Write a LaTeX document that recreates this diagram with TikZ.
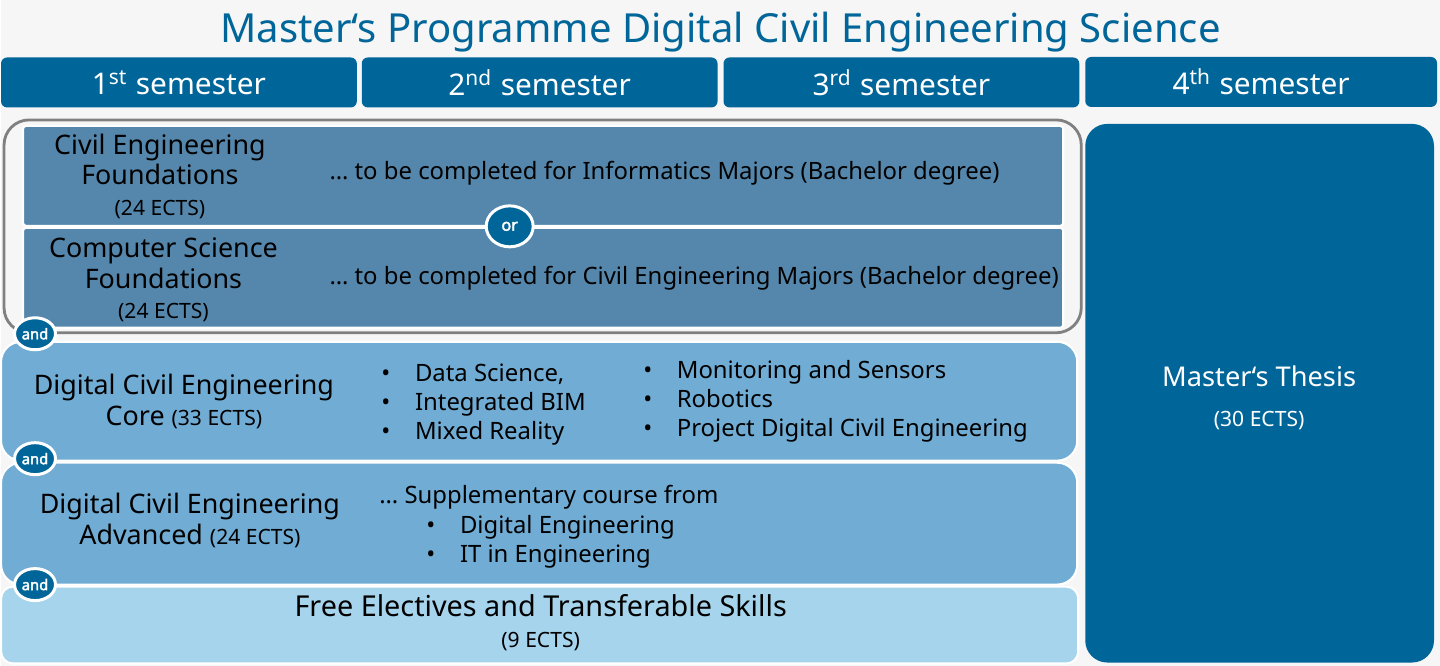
\documentclass[tikz,border=0pt]{standalone}
\usepackage{fontspec}
\setmainfont{Noto Sans}
\newfontfamily\jointfont{Noto Sans}[FakeBold=2.5]
\usepackage{tikz}
\tikzset{
    block/.style={ % coloured box, #1 = fill
        rectangle,
        fill=#1,
        draw=white,
        line width=0.6pt,
        inner sep=0pt,
        outer sep=0pt
    },
}
\usetikzlibrary{positioning,shapes.geometric}
\definecolor{hdrblue}{RGB}{0,101,153}
\definecolor{fndblue}{RGB}{85,135,172}
\definecolor{coreblue}{RGB}{112,172,212}
\definecolor{freeblue}{RGB}{166,212,236}
\definecolor{bggray}{RGB}{246,246,246}
\definecolor{rimgray}{RGB}{128,128,128}
\newcommand{\ects}[1]{{\fontsize{6}{7}\selectfont(#1 ECTS)}}

\begin{document}
\begin{tikzpicture}[x=1cm,y=-1cm]
%% box and label styles
\tikzstyle{semester}=[rectangle,rounded corners=0.06cm,fill=hdrblue,text=white,minimum width=3.56cm,minimum height=0.50cm,inner sep=0pt,font=\fontsize{8.5}{10}\selectfont]
\tikzstyle{txt}=[inner sep=0pt,align=center,font=\fontsize{7.65}{8.8}\selectfont]
\tikzstyle{note}=[inner sep=0pt,anchor=west,align=left,font=\fontsize{6.8}{8.2}\selectfont]
\tikzstyle{joint}=[ellipse,fill=hdrblue,draw=white,line width=0.85pt,text=white,inner sep=0pt,font=\jointfont\fontsize{4.2}{5}\selectfont]
%BACKGROUND
\node[rectangle,fill=bggray,minimum width=14.4cm,minimum height=6.66cm,inner sep=0pt,outer sep=0pt] (canvas) at (7.2,3.33) {};
%TITLE
\node[inner sep=0pt,text=hdrblue,font=\fontsize{11.4}{13}\selectfont] (title) at (7.2,0.32) {Master‘s Programme Digital Civil Engineering Science};
%%%%%%%%%%%%%%%%%%%%%%%%%%%%%%%%%%%%%%%%%%%%%%%%%%%%%%%%%%%%%%%%%%%%%%%%
%SEMESTERS
\node[semester] (sem1) at (1.78,0.825) {1\textsuperscript{st} semester};
\node[semester] (sem2) at (5.39,0.825) {2\textsuperscript{nd} semester};
\node[semester] (sem3) at (9.01,0.825) {3\textsuperscript{rd} semester};
\node[semester,minimum width=3.52cm] (sem4) at (12.61,0.82) {4\textsuperscript{th} semester};

%%%%%%%%%%%%%%%%%%%%%%%%%%%%%%%%%%%%%%%%%%%%%%%%%%%%%%%%%%%%%%%%%%%%%%%%
%FOUNDATIONS
\node[rectangle,draw=rimgray,line width=0.8pt,rounded corners=0.25cm,minimum width=10.78cm,minimum height=2.13cm,inner sep=0pt] (choice) at (5.42,2.265) {};
\node[block=fndblue,rounded corners=0.03cm,minimum width=10.41cm,minimum height=1.00cm] (cef) at (5.425,1.76) {};
\node[block=fndblue,rounded corners=0.03cm,minimum width=10.41cm,minimum height=1.00cm] (csf) at (5.425,2.78) {};
\node[txt] (ceflabel) at (1.59,1.765) {Civil Engineering\\Foundations\\\ects{24}};
\node[txt] (csflabel) at (1.625,2.80) {Computer Science\\Foundations\\\ects{24}};
\node[note] (cefnote) at (3.28,1.735) {… to be completed for Informatics Majors (Bachelor degree)};
\node[note] (csfnote) at (3.28,2.785) {… to be completed for Civil Engineering Majors (Bachelor degree)};

%CORE
\node[block=coreblue,rounded corners=0.2cm,minimum width=10.77cm,minimum height=1.19cm] (core) at (5.385,4.015) {};
\node[txt] (corelabel) at (1.83,4.02) {Digital Civil Engineering\\Core \ects{33}};
\node[note] (corelist1) at (3.80,4.05) {\begin{tabular}{@{}l@{\hspace{7pt}}l@{}}•&Data Science,\\•&Integrated BIM\\•&Mixed Reality\end{tabular}};
\node[note] (corelist2) at (6.42,4.02) {\begin{tabular}{@{}l@{\hspace{7pt}}l@{}}•&Monitoring and Sensors\\•&Robotics\\•&Project Digital Civil Engineering\end{tabular}};

%ADVANCED
\node[block=coreblue,rounded corners=0.2cm,minimum width=10.77cm,minimum height=1.22cm] (adv) at (5.385,5.24) {};
\node[txt] (advlabel) at (1.89,5.21) {Digital Civil Engineering\\Advanced \ects{24}};
\node[note] (advnote) at (3.78,4.975) {… Supplementary course from};
\node[note] (advlist) at (4.25,5.43) {\begin{tabular}{@{}l@{\hspace{7pt}}l@{}}•&Digital Engineering\\•&IT in Engineering\end{tabular}};

%ELECTIVES
\node[block=freeblue,rounded corners=0.12cm,minimum width=10.78cm,minimum height=0.77cm] (free) at (5.39,6.255) {};
\node[txt,font=\fontsize{8.2}{8.6}\selectfont] (freelabel) at (5.40,6.23) {Free Electives and Transferable Skills\\\ects{9}};

%%%%%%%%%%%%%%%%%%%%%%%%%%%%%%%%%%%%%%%%%%%%%%%%%%%%%%%%%%%%%%%%%%%%%%%%
%THESIS
\node[block=hdrblue,draw=none,rounded corners=0.22cm,minimum width=3.49cm,minimum height=5.39cm] (thesis) at (12.595,3.935) {};
\node[txt,text=white,font=\fontsize{7.75}{8.8}\selectfont] (thesislabel) at (12.59,3.985) {Master‘s Thesis\\[0.9mm]\ects{30}};

%%%%%%%%%%%%%%%%%%%%%%%%%%%%%%%%%%%%%%%%%%%%%%%%%%%%%%%%%%%%%%%%%%%%%%%%
%OR / AND
\node[joint,minimum width=0.47cm,minimum height=0.41cm,font=\jointfont\fontsize{4.6}{5}\selectfont] (or) at (5.09,2.265) {or};
\node[joint,minimum width=0.41cm,minimum height=0.32cm] (and1) at (0.34,3.34) {and};
\node[joint,minimum width=0.41cm,minimum height=0.32cm] (and2) at (0.34,4.59) {and};
\node[joint,minimum width=0.41cm,minimum height=0.32cm] (and3) at (0.34,5.85) {and};
\end{tikzpicture}
\end{document}
